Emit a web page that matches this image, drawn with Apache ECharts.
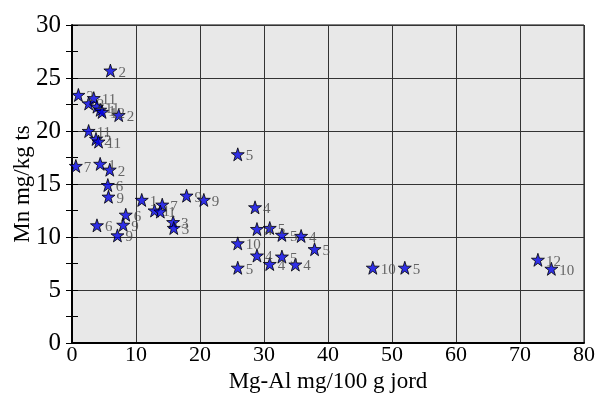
<!DOCTYPE html>
<html>
<head>
<meta charset="utf-8">
<script src="https://cdn.jsdelivr.net/npm/echarts@6/dist/echarts.min.js"></script>
<style>
  html, body { margin: 0; padding: 0; background: #ffffff; }
  #chart { width: 597px; height: 397px; }
</style>
</head>
<body>
<div id="chart"></div>
<script>
// Mg-Al (mg/100 g jord) against Mn (mg/kg ts), each sample tagged with its site number
const mgAl = [6.0, 1.0, 2.6, 3.4, 3.9, 4.4, 4.7, 7.3,
              2.6, 3.75, 4.15, 0.6, 4.4, 5.9, 5.6, 5.7,
              3.9, 8.4, 8.0, 7.1, 10.9, 14.1, 12.9, 13.8,
              15.8, 15.9, 17.9, 20.6, 25.9, 28.6, 28.9, 30.9,
              32.8, 35.8, 25.9, 28.9, 32.8, 37.9, 30.9, 34.9,
              25.9, 47.0, 52.0, 72.8, 74.9];
const mn = [25.7, 23.4, 22.6, 23.1, 22.3, 22.0, 21.8, 21.5,
            20.0, 19.25, 19.0, 16.7, 16.9, 16.35, 14.9, 13.8,
            11.1, 12.1, 11.15, 10.15, 13.5, 13.05, 12.5, 12.4,
            11.4, 10.85, 13.9, 13.5, 17.8, 12.8, 10.75, 10.85,
            10.2, 10.1, 9.4, 8.25, 8.15, 8.85, 7.45, 7.4,
            7.1, 7.1, 7.1, 7.85, 7.0];
const site = ['2', '2', '2', '11', '11', '1', '12', '2',
              '11', '2', '11', '7', '1', '2', '6', '9',
              '6', '6', '9', '9', '1', '7', '1', '1',
              '3', '3', '9', '9', '5', '4', '4', '5',
              '5', '4', '10', '4', '5', '5', '4', '4',
              '5', '10', '5', '12', '10'];
const xTicks = [0, 10, 20, 30, 40, 50, 60, 70, 80];
const yTicks = [0, 5, 10, 15, 20, 25, 30];

const points = mgAl.map((x, i) => [x, mn[i], site[i]]);

const starPath = 'path://M50,0 L61.8,35.1 L98.9,35.5 L69.1,57.6 L80.2,93.1 L50,71.7 L19.8,93.1 L30.9,57.6 L1.1,35.5 L38.2,35.1 Z';
const serif = '"Liberation Serif", "Times New Roman", serif';

// y ticks every 2.5, labels and grid lines only on multiples of 5
const yStep = 2.5;
const isMajorY = v => Math.abs(v / 5 - Math.round(v / 5)) < 1e-6;

const chart = echarts.init(document.getElementById('chart'), null, { renderer: 'canvas' });
chart.setOption({
  animation: false,
  grid: {
    left: 72, right: 13, top: 25, bottom: 54,
    containLabel: false,
    outerBoundsMode: 'none',
    show: true,
    backgroundColor: '#e8e8e8',
    borderColor: '#000000',
    borderWidth: 1
  },
  xAxis: {
    type: 'value',
    min: xTicks[0], max: xTicks[xTicks.length - 1], interval: 10,
    name: 'Mg-Al mg/100 g jord',
    nameLocation: 'middle',
    nameGap: 27,
    nameMoveOverlap: false,
    nameTextStyle: { fontFamily: serif, fontSize: 23, color: '#000' },
    axisLine: { show: true, onZero: false, lineStyle: { color: '#000', width: 2 } },
    axisTick: { show: false },
    axisLabel: { fontFamily: serif, fontSize: 22, color: '#000', margin: 1 },
    splitLine: { show: true, lineStyle: { color: '#333', width: 1 } }
  },
  yAxis: [{
    type: 'value',
    min: yTicks[0], max: yTicks[yTicks.length - 1], interval: yStep,
    name: 'Mn mg/kg ts',
    nameLocation: 'middle',
    nameGap: 38,
    nameMoveOverlap: false,
    nameTextStyle: { fontFamily: serif, fontSize: 23, color: '#000' },
    axisLine: { show: true, onZero: false, lineStyle: { color: '#000', width: 2 } },
    axisTick: { show: true, inside: true, length: 6, lineStyle: { color: '#000' } },
    axisLabel: {
      fontFamily: serif, fontSize: 25, color: '#000', margin: 11,
      formatter: v => (isMajorY(v) ? String(v) : '')
    },
    splitLine: { show: true, lineStyle: { color: ['#333', 'rgba(0,0,0,0)'], width: 1 } }
  }, {
    type: 'value', position: 'right',
    min: yTicks[0], max: yTicks[yTicks.length - 1], interval: yStep,
    axisLine: { show: false },
    axisTick: { show: true, inside: true, length: 6, lineStyle: { color: '#000' } },
    axisLabel: { show: false },
    splitLine: { show: false }
  }],
  series: [{
    type: 'scatter',
    data: points,
    symbol: starPath,
    symbolSize: 13,
    itemStyle: { color: '#0000e6', borderColor: '#000', borderWidth: 1 },
    label: {
      show: true,
      position: 'right',
      distance: 1,
      offset: [0, 2],
      formatter: p => p.value[2],
      fontFamily: serif,
      fontSize: 15,
      color: '#444'
    }
  }]
});
</script>
</body>
</html>
